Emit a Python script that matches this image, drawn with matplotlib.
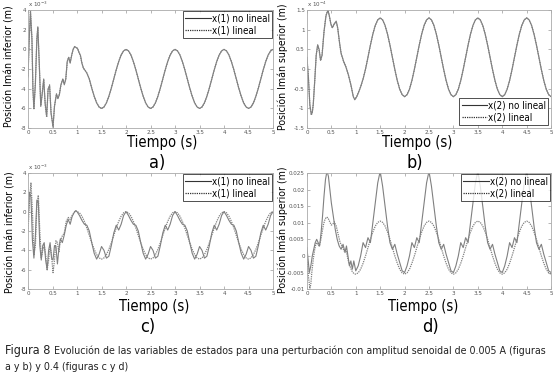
import numpy as np
import matplotlib
matplotlib.use('Agg')
import matplotlib.pyplot as plt

plt.rcParams['font.family'] = ['DejaVu Sans']
plt.rcParams['font.stretch'] = 'condensed'

# ---- panel a: x(1), amplitude 0.005 (units 1e-3 m) ----
t_a_trans = [0, 0.02, 0.05, 0.08, 0.1, 0.12, 0.15, 0.18, 0.2, 0.23, 0.26, 0.29, 0.32, 0.35,
             0.38, 0.41, 0.44, 0.47, 0.51, 0.54, 0.58, 0.61, 0.64, 0.67, 0.71, 0.74, 0.77,
             0.8, 0.83, 0.86, 0.89, 0.92, 0.95, 0.98, 1.01, 1.04, 1.07, 1.1, 1.13, 1.16, 1.2]
x_a_nl_trans = [-2.8, 0.5, 3.8, 1.0, -4.0, -6.0, -3.5, 1.0, 2.3, -1.5, -5.8, -4.5, -3.0, -5.5,
                -6.8, -4.0, -3.7, -6.5, -7.8, -5.8, -4.5, -5.0, -4.6, -3.6, -3.0, -3.6, -3.0,
                -1.2, -0.8, -1.4, -0.6, 0.0, 0.3, 0.2, 0.1, -0.3, -0.6, -1.4, -1.9, -2.1, -2.4]
x_a_lin_trans = [-2.7, 0.6, 3.9, 1.1, -4.1, -6.1, -3.4, 1.1, 2.2, -1.6, -5.7, -4.4, -3.1, -5.6,
                 -6.9, -4.1, -3.6, -6.4, -7.9, -5.7, -4.6, -5.0, -4.5, -3.7, -3.0, -3.5, -3.1,
                 -1.3, -0.8, -1.3, -0.6, 0.0, 0.2, 0.2, 0.1, -0.3, -0.7, -1.4, -1.9, -2.1, -2.4]
x_a_steady = [-3.0, -3.93, -4.76, -5.43, -5.85, -6.0, -5.85, -5.43, -4.76, -3.93, -3.0, -2.07, -1.24, -0.57, -0.15, 0.0,
              -0.15, -0.57, -1.24, -2.07, -3.0, -3.93, -4.76, -5.43, -5.85, -6.0, -5.85, -5.43, -4.76, -3.93, -3.0, -2.07, -1.24, -0.57, -0.15, 0.0,
              -0.15, -0.57, -1.24, -2.07, -3.0, -3.93, -4.76, -5.43, -5.85, -6.0, -5.85, -5.43, -4.76, -3.93, -3.0, -2.07, -1.24, -0.57, -0.15, 0.0,
              -0.15, -0.57, -1.24, -2.07, -3.0, -3.93, -4.76, -5.43, -5.85, -6.0, -5.85, -5.43, -4.76, -3.93, -3.0, -2.07, -1.24, -0.57, -0.15, 0.0]

# ---- panel b: x(2), amplitude 0.005 (units 1e-4 m) ----
t_b_trans = [0, 0.03, 0.06, 0.09, 0.11, 0.13, 0.16, 0.19, 0.22, 0.25, 0.28, 0.31, 0.35, 0.39,
             0.43, 0.46, 0.49, 0.52, 0.56, 0.6, 0.63, 0.67, 0.7, 0.75, 0.8, 0.85, 0.9, 0.95,
             0.98, 1.02, 1.06, 1.1, 1.15, 1.2]
x_b_nl_trans = [0.3, -0.2, -0.9, -1.15, -1.1, -0.9, -0.3, 0.35, 0.62, 0.5, 0.22, 0.35, 0.95, 1.35,
                1.5, 1.35, 1.15, 1.05, 1.15, 1.22, 1.05, 0.65, 0.4, 0.2, 0.05, -0.15, -0.4, -0.7,
                -0.78, -0.7, -0.58, -0.45, -0.25, 0.0]
x_b_lin_trans = [0.3, -0.2, -0.92, -1.17, -1.1, -0.88, -0.3, 0.35, 0.6, 0.48, 0.22, 0.36, 0.95, 1.36,
                 1.5, 1.34, 1.14, 1.05, 1.15, 1.2, 1.04, 0.65, 0.4, 0.2, 0.05, -0.15, -0.4, -0.7,
                 -0.77, -0.7, -0.58, -0.45, -0.25, 0.0]
x_b_steady = [0.3, 0.61, 0.89, 1.11, 1.25, 1.3, 1.25, 1.11, 0.89, 0.61, 0.3, -0.01, -0.29, -0.51, -0.65, -0.7,
              -0.65, -0.51, -0.29, -0.01, 0.3, 0.61, 0.89, 1.11, 1.25, 1.3, 1.25, 1.11, 0.89, 0.61, 0.3, -0.01, -0.29, -0.51, -0.65, -0.7,
              -0.65, -0.51, -0.29, -0.01, 0.3, 0.61, 0.89, 1.11, 1.25, 1.3, 1.25, 1.11, 0.89, 0.61, 0.3, -0.01, -0.29, -0.51, -0.65, -0.7,
              -0.65, -0.51, -0.29, -0.01, 0.3, 0.61, 0.89, 1.11, 1.25, 1.3, 1.25, 1.11, 0.89, 0.61, 0.3, -0.01, -0.29, -0.51, -0.65, -0.7]

# ---- panel c: x(1), amplitude 0.4 (units 1e-3 m) ----
t_c_trans = [0, 0.03, 0.06, 0.09, 0.12, 0.15, 0.18, 0.21, 0.24, 0.27, 0.3, 0.33, 0.36, 0.39, 0.42,
             0.45, 0.48, 0.51, 0.54, 0.57, 0.6, 0.63, 0.66, 0.7, 0.74, 0.78, 0.82, 0.86, 0.9, 0.94,
             0.97, 1.0]
x_c_nl_trans = [-1.0, 2.0, 1.5, -3.0, -4.8, -2.5, 1.2, 1.0, -3.5, -5.0, -3.5, -3.2, -5.0, -6.0, -4.0,
                -3.2, -4.8, -5.0, -3.5, -3.6, -5.4, -3.8, -2.8, -3.2, -2.4, -1.4, -0.8, -1.3, -0.5, -0.1,
                0.1, 0.0]
x_c_lin_trans = [-2.0, 1.0, 3.0, 0.0, -4.5, -3.5, 0.5, 1.7, -2.0, -4.8, -4.0, -3.5, -4.5, -6.0, -5.0,
                 -3.5, -4.5, -6.3, -5.0, -3.0, -3.2, -4.2, -3.0, -2.5, -2.2, -1.0, -0.6, -0.8, -0.4, -0.1,
                 0.1, 0.0]
x_c_nl_steady = [-0.4, -0.9, -1.3, -1.4, -2.0, -3.2, -4.3, -4.9, -4.4, -3.6, -4.0, -4.8, -4.6, -3.5, -2.2, -1.4, -1.9, -1.3, -0.4, 0.0,
                 -0.4, -0.9, -1.3, -1.4, -2.0, -3.2, -4.3, -4.9, -4.4, -3.6, -4.0, -4.8, -4.6, -3.5, -2.2, -1.4, -1.9, -1.3, -0.4, 0.0,
                 -0.4, -0.9, -1.3, -1.4, -2.0, -3.2, -4.3, -4.9, -4.4, -3.6, -4.0, -4.8, -4.6, -3.5, -2.2, -1.4, -1.9, -1.3, -0.4, 0.0,
                 -0.4, -0.9, -1.3, -1.4, -2.0, -3.2, -4.3, -4.9, -4.4, -3.6, -4.0, -4.8, -4.6, -3.5, -2.2, -1.4, -1.9, -1.3, -0.4, 0.0]
x_c_lin_steady = [-0.12, -0.47, -1.01, -1.69, -2.45, -3.21, -3.89, -4.43, -4.78, -4.9, -4.78, -4.43, -3.89, -3.21, -2.45, -1.69, -1.01, -0.47, -0.12, 0.0,
                  -0.12, -0.47, -1.01, -1.69, -2.45, -3.21, -3.89, -4.43, -4.78, -4.9, -4.78, -4.43, -3.89, -3.21, -2.45, -1.69, -1.01, -0.47, -0.12, 0.0,
                  -0.12, -0.47, -1.01, -1.69, -2.45, -3.21, -3.89, -4.43, -4.78, -4.9, -4.78, -4.43, -3.89, -3.21, -2.45, -1.69, -1.01, -0.47, -0.12, 0.0,
                  -0.12, -0.47, -1.01, -1.69, -2.45, -3.21, -3.89, -4.43, -4.78, -4.9, -4.78, -4.43, -3.89, -3.21, -2.45, -1.69, -1.01, -0.47, -0.12, 0.0]

# ---- panel d: x(2), amplitude 0.4 (m) ----
t_d_nl_trans = [0, 0.03, 0.05, 0.08, 0.11, 0.14, 0.17, 0.2, 0.23, 0.26, 0.29, 0.32, 0.35, 0.38,
                0.41, 0.44, 0.47, 0.5, 0.54, 0.58, 0.62, 0.66, 0.7, 0.74, 0.78, 0.81, 0.84, 0.87,
                0.9, 0.93, 0.96, 1.0]
x_d_nl_trans = [0.0025, -0.002, -0.005, -0.003, 0.0, 0.002, 0.004, 0.005, 0.004, 0.003, 0.007, 0.012,
                0.018, 0.023, 0.0255, 0.024, 0.02, 0.016, 0.012, 0.008, 0.005, 0.003, 0.002, 0.0035, 0.001,
                0.003, 0.0, -0.003, -0.0015, -0.004, -0.0015, -0.0045]
t_d_lin_trans = [0, 0.03, 0.06, 0.08, 0.1, 0.13, 0.16, 0.19, 0.22, 0.25, 0.28, 0.31, 0.34, 0.37, 0.4,
                 0.43, 0.46, 0.5, 0.53, 0.56, 0.6, 0.64, 0.68, 0.72, 0.76, 0.8, 0.84, 0.88, 0.92, 0.96, 1.0]
x_d_lin_trans = [0.001, -0.006, -0.0098, -0.0085, -0.005, -0.001, 0.002, 0.004, 0.0035, 0.003, 0.0045,
                 0.007, 0.0095, 0.011, 0.0117, 0.0115, 0.0105, 0.0093, 0.0095, 0.0103, 0.009, 0.0065,
                 0.004, 0.003, 0.0015, 0.002, -0.001, -0.003, -0.0045, -0.0053, -0.0055]
x_d_nl_steady = [-0.003, 0.0, 0.004, 0.0025, 0.0055, 0.004, 0.010, 0.016, 0.022, 0.0255, 0.021, 0.015, 0.009, 0.004, 0.002, 0.0035, 0.0005, -0.002, -0.0045, -0.005,
                 -0.003, 0.0, 0.004, 0.0025, 0.0055, 0.004, 0.010, 0.016, 0.022, 0.0255, 0.021, 0.015, 0.009, 0.004, 0.002, 0.0035, 0.0005, -0.002, -0.0045, -0.005,
                 -0.003, 0.0, 0.004, 0.0025, 0.0055, 0.004, 0.010, 0.016, 0.022, 0.0255, 0.021, 0.015, 0.009, 0.004, 0.002, 0.0035, 0.0005, -0.002, -0.0045, -0.005,
                 -0.003, 0.0, 0.004, 0.0025, 0.0055, 0.004, 0.010, 0.016, 0.022, 0.0255, 0.021, 0.015, 0.009, 0.004, 0.002, 0.0035, 0.0005, -0.002, -0.0045, -0.005]
x_d_lin_steady = [-0.0051, -0.004, -0.0022, 0.0, 0.0025, 0.005, 0.0072, 0.009, 0.0101, 0.0105, 0.0101, 0.009, 0.0072, 0.005, 0.0025, 0.0, -0.0022, -0.004, -0.0051, -0.0055,
                  -0.0051, -0.004, -0.0022, 0.0, 0.0025, 0.005, 0.0072, 0.009, 0.0101, 0.0105, 0.0101, 0.009, 0.0072, 0.005, 0.0025, 0.0, -0.0022, -0.004, -0.0051, -0.0055,
                  -0.0051, -0.004, -0.0022, 0.0, 0.0025, 0.005, 0.0072, 0.009, 0.0101, 0.0105, 0.0101, 0.009, 0.0072, 0.005, 0.0025, 0.0, -0.0022, -0.004, -0.0051, -0.0055,
                  -0.0051, -0.004, -0.0022, 0.0, 0.0025, 0.005, 0.0072, 0.009, 0.0101, 0.0105, 0.0101, 0.009, 0.0072, 0.005, 0.0025, 0.0, -0.0022, -0.004, -0.0051, -0.0055]

# time grids for the steady part (sampled every 0.05 s)
t_steady_ab = np.round(np.arange(1.25, 5.0001, 0.05), 2)
t_steady_cd = np.round(np.arange(1.05, 5.0001, 0.05), 2)

x_ticks = [0, 0.5, 1, 1.5, 2, 2.5, 3, 3.5, 4, 4.5, 5]
x_ticklabels = ['0', '0.5', '1', '1.5', '2', '2.5', '3', '3.5', '4', '4.5', '5']

LINE = '#808080'

fig = plt.figure(figsize=(5.55, 3.86), dpi=100)


def panel(rect, t_nl, x_nl, t_lin, x_lin, names, yticks, yticklabels, exp_txt, loc, pad):
    ax = fig.add_axes(rect)
    ax.plot(t_nl, x_nl, color=LINE, lw=0.8, ls='-', label=names[0])
    ax.plot(t_lin, x_lin, color=LINE, lw=0.9, ls=(0, (1, 0.8)), label=names[1])
    ax.set_xlim(0, 5)
    ax.set_ylim(yticks[0], yticks[-1])
    ax.set_xticks(x_ticks)
    ax.set_xticklabels(x_ticklabels)
    ax.set_yticks(yticks)
    ax.set_yticklabels(yticklabels)
    ax.tick_params(direction='in', length=2, width=0.5, labelsize=4.5, colors='#999999',
                   labelcolor='#555555', top=True, right=True, pad=1.5)
    for s in ax.spines.values():
        s.set_color('#aaaaaa')
        s.set_linewidth(0.6)
    if exp_txt:
        ax.text(0.0, 1.005, exp_txt, transform=ax.transAxes, fontsize=4.5, color='#555555',
                ha='left', va='bottom')
    leg = ax.legend(loc=loc, fontsize=7, frameon=True, fancybox=False, borderaxespad=pad,
                    handlelength=2.6, handletextpad=0.1, borderpad=0.25, labelspacing=0.25)
    leg.get_frame().set_edgecolor('black')
    leg.get_frame().set_linewidth(0.6)
    for h in leg.get_lines():
        h.set_color('#333333')
    return ax


# axes rectangles (fig fractions)
panel([0.0505, 0.668, 0.4415, 0.306],
      list(t_a_trans) + list(t_steady_ab), x_a_nl_trans + x_a_steady,
      list(t_a_trans) + list(t_steady_ab), x_a_lin_trans + x_a_steady,
      ['x(1) no lineal', 'x(1) lineal'],
      [-8, -6, -4, -2, 0, 2, 4], ['-8', '-6', '-4', '-2', '0', '2', '4'],
      r'x 10$^{-3}$', 'upper right', 0.1)

panel([0.553, 0.668, 0.440, 0.306],
      list(t_b_trans) + list(t_steady_ab), x_b_nl_trans + x_b_steady,
      list(t_b_trans) + list(t_steady_ab), x_b_lin_trans + x_b_steady,
      ['x(2) no lineal', 'x(2) lineal'],
      [-1.5, -1, -0.5, 0, 0.5, 1, 1.5], ['-1.5', '-1', '-0.5', '0', '0.5', '1', '1.5'],
      r'x 10$^{-4}$', 'lower right', 0.3)

panel([0.0505, 0.251, 0.4415, 0.301],
      list(t_c_trans) + list(t_steady_cd), x_c_nl_trans + x_c_nl_steady,
      list(t_c_trans) + list(t_steady_cd), x_c_lin_trans + x_c_lin_steady,
      ['x(1) no lineal', 'x(1) lineal'],
      [-8, -6, -4, -2, 0, 2, 4], ['-8', '-6', '-4', '-2', '0', '2', '4'],
      r'x 10$^{-3}$', 'upper right', 0.1)

panel([0.553, 0.251, 0.440, 0.301],
      list(t_d_nl_trans) + list(t_steady_cd), x_d_nl_trans + x_d_nl_steady,
      list(t_d_lin_trans) + list(t_steady_cd), x_d_lin_trans + x_d_lin_steady,
      ['x(2) no lineal', 'x(2) lineal'],
      [-0.01, -0.005, 0, 0.005, 0.01, 0.015, 0.02, 0.025],
      ['-0.01', '-0.005', '0', '0.005', '0.01', '0.015', '0.02', '0.025'],
      None, 'upper right', 0.1)

# axis titles
lab = dict(fontsize=10.5, color='black', ha='center', va='center')
fig.text(162 / 555, 1 - 143 / 386, 'Tiempo (s)', **lab)
fig.text(417 / 555, 1 - 143 / 386, 'Tiempo (s)', **lab)
fig.text(154 / 555, 1 - 307 / 386, 'Tiempo (s)', **lab)
fig.text(423 / 555, 1 - 307 / 386, 'Tiempo (s)', **lab)

ylab = dict(fontsize=7.6, rotation=90, ha='center', va='center')
fig.text(10 / 555, 1 - 66 / 386, 'Posición Imán inferior (m)', **ylab)
fig.text(283 / 555, 1 - 67 / 386, 'Posición Imán superior (m)', **ylab)
fig.text(11 / 555, 1 - 232 / 386, 'Posición Imán inferior (m)', **ylab)
fig.text(283 / 555, 1 - 230 / 386, 'Posición Imán superior (m)', **ylab)

let = dict(fontsize=13, ha='center', va='center')
fig.text(157 / 555, 1 - 163 / 386, 'a)', **let)
fig.text(415 / 555, 1 - 163 / 386, 'b)', **let)
fig.text(148 / 555, 1 - 327 / 386, 'c)', **let)
fig.text(430 / 555, 1 - 327 / 386, 'd)', **let)

# caption
fig.text(5 / 555, 1 - 354 / 386, 'Figura 8', fontsize=9, color='#222222', va='baseline')
fig.text(54 / 555, 1 - 354 / 386,
         'Evolución de las variables de estados para una perturbación con amplitud senoidal de 0.005 A (figuras',
         fontsize=7.65, color='#222222', va='baseline')
fig.text(5 / 555, 1 - 370 / 386, 'a y b) y 0.4 (figuras c y d)', fontsize=7.65, color='#222222',
         va='baseline')

fig.savefig('out.png', dpi=100)
